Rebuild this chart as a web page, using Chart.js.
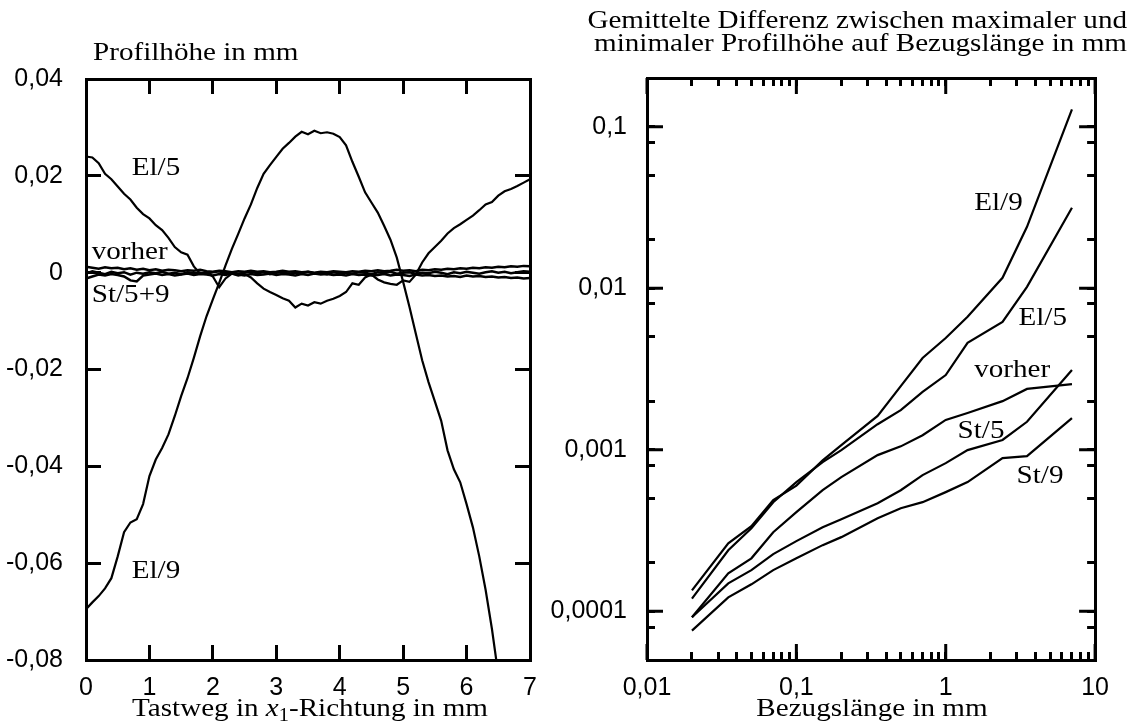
<!DOCTYPE html>
<html>
<head>
<meta charset="utf-8">
<script src="https://cdn.jsdelivr.net/npm/chart.js@4.4.1/dist/chart.umd.min.js"></script>
<style>
  html, body { margin: 0; padding: 0; background: #fff; }
  #wrap { position: relative; width: 1130px; height: 726px; }
  #c1 { position: absolute; left: 0; top: 0; }
  #c2 { position: absolute; left: 540px; top: 0; }
</style>
</head>
<body>
<div id="wrap">
  <canvas id="c1" width="565" height="726"></canvas>
  <canvas id="c2" width="590" height="726"></canvas>
</div>
<script>
// ---- left chart: profile height over stylus path ----
const tastweg = [
  0.0, 0.1, 0.2, 0.3, 0.4, 0.5, 0.6, 0.7, 0.8, 0.9,
  1.0, 1.1, 1.2, 1.3, 1.4, 1.5, 1.6, 1.7, 1.8, 1.9,
  2.0, 2.1, 2.2, 2.3, 2.4, 2.5, 2.6, 2.7, 2.8, 2.9,
  3.0, 3.1, 3.2, 3.3, 3.4, 3.5, 3.6, 3.7, 3.8, 3.9,
  4.0, 4.1, 4.2, 4.3, 4.4, 4.5, 4.6, 4.7, 4.8, 4.9,
  5.0, 5.1, 5.2, 5.3, 5.4, 5.5, 5.6, 5.7, 5.8, 5.9,
  6.0, 6.1, 6.2, 6.3, 6.4, 6.5, 6.6, 6.7, 6.8, 6.9,
  7.0
];
const profilEl5 = [
  0.0240, 0.0238, 0.0226, 0.0204, 0.0193, 0.0178, 0.0163, 0.0151, 0.0134, 0.0121,
  0.0112, 0.0098, 0.0088, 0.0072, 0.0053, 0.0042, 0.0037, 0.0013, -0.0002, 0.0001,
  -0.0008, -0.0030, -0.0012, -0.0002, -0.0006, -0.0003, -0.0010, -0.0022, -0.0033, -0.0040,
  -0.0046, -0.0053, -0.0058, -0.0072, -0.0064, -0.0068, -0.0061, -0.0064, -0.0058, -0.0054,
  -0.0048, -0.0040, -0.0022, -0.0025, -0.0010, -0.0004, -0.0014, -0.0020, -0.0023, -0.0025,
  -0.0016, -0.0019, -0.0004, 0.0021, 0.0040, 0.0053, 0.0066, 0.0081, 0.0092, 0.0100,
  0.0109, 0.0118, 0.0129, 0.0141, 0.0146, 0.0159, 0.0168, 0.0173, 0.0179, 0.0186,
  0.0193
];
const profilEl9 = [
  -0.0695, -0.0681, -0.0668, -0.0652, -0.0631, -0.0586, -0.0536, -0.0516, -0.0509, -0.0478,
  -0.0420, -0.0386, -0.0362, -0.0334, -0.0296, -0.0255, -0.0218, -0.0176, -0.0131, -0.0090,
  -0.0055, -0.0021, 0.0015, 0.0049, 0.0080, 0.0112, 0.0141, 0.0175, 0.0204, 0.0222,
  0.0239, 0.0256, 0.0268, 0.0281, 0.0291, 0.0286, 0.0293, 0.0288, 0.0290, 0.0287,
  0.0280, 0.0263, 0.0229, 0.0198, 0.0166, 0.0145, 0.0124, 0.0097, 0.0068, 0.0031,
  -0.0019, -0.0071, -0.0126, -0.0181, -0.0226, -0.0266, -0.0306, -0.0367, -0.0406, -0.0433,
  -0.0478, -0.0526, -0.0586, -0.0655, -0.0736, -0.0830, -0.0930, -0.1030, null, null,
  null
];
const profilVorher = [
  0.0012, 0.0010, 0.0008, 0.0011, 0.0009, 0.0010, 0.0007, 0.0009, 0.0006, 0.0008,
  0.0005, 0.0007, 0.0004, 0.0006, 0.0005, 0.0003, 0.0005, 0.0004, 0.0006, 0.0003,
  0.0002, 0.0004, 0.0003, 0.0001, 0.0003, 0.0002, 0.0004, 0.0002, 0.0003, 0.0001,
  0.0002, 0.0004, 0.0002, 0.0003, 0.0001, 0.0002, 0.0000, 0.0002, 0.0001, 0.0003,
  0.0002, 0.0001, 0.0003, 0.0002, 0.0004, 0.0003, 0.0005, 0.0003, 0.0004, 0.0006,
  0.0004, 0.0005, 0.0003, 0.0006, 0.0005, 0.0007, 0.0006, 0.0008, 0.0007, 0.0009,
  0.0008, 0.0010, 0.0009, 0.0011, 0.0010, 0.0012, 0.0011, 0.0013, 0.0012, 0.0014,
  0.0013
];
const profilSt5 = [
  -0.0002, 0.0003, 0.0000, -0.0003, 0.0002, -0.0001, 0.0001, -0.0004, 0.0000, -0.0002,
  0.0001, -0.0001, 0.0002, -0.0002, 0.0000, -0.0003, 0.0001, -0.0001, 0.0000, -0.0002,
  0.0001, 0.0003, -0.0001, 0.0001, -0.0002, 0.0000, 0.0002, -0.0001, 0.0001, -0.0003,
  0.0000, 0.0001, -0.0002, 0.0000, -0.0001, 0.0002, -0.0001, 0.0000, -0.0003, 0.0001,
  -0.0001, 0.0000, -0.0002, 0.0001, 0.0000, -0.0003, 0.0001, -0.0001, 0.0002, -0.0002,
  0.0000, 0.0001, -0.0002, 0.0000, -0.0001, 0.0002, 0.0000, -0.0003, 0.0001, -0.0001,
  0.0002, 0.0000, -0.0002, 0.0001, 0.0003, 0.0000, 0.0002, -0.0001, 0.0001, 0.0003,
  0.0002
];
const profilSt9 = [
  -0.0012, -0.0008, -0.0004, -0.0006, -0.0003, -0.0005, -0.0008, -0.0016, -0.0018, -0.0006,
  -0.0004, -0.0002, -0.0005, -0.0003, -0.0006, -0.0004, -0.0002, -0.0005, -0.0003, -0.0004,
  -0.0006, -0.0003, -0.0005, -0.0002, -0.0004, -0.0006, -0.0003, -0.0005, -0.0004, -0.0002,
  -0.0005, -0.0003, -0.0004, -0.0006, -0.0003, -0.0005, -0.0002, -0.0004, -0.0003, -0.0005,
  -0.0004, -0.0006, -0.0003, -0.0005, -0.0004, -0.0006, -0.0005, -0.0003, -0.0006, -0.0004,
  -0.0005, -0.0007, -0.0004, -0.0006, -0.0005, -0.0007, -0.0006, -0.0008, -0.0007, -0.0009,
  -0.0006, -0.0008, -0.0007, -0.0009, -0.0008, -0.0010, -0.0009, -0.0011, -0.0010, -0.0012,
  -0.0011
];
const leftXTicks = [0, 1, 2, 3, 4, 5, 6, 7];
const leftXLabels = ['0', '1', '2', '3', '4', '5', '6', '7'];
const leftYTicks = [-0.08, -0.06, -0.04, -0.02, 0, 0.02, 0.04];
const leftYLabels = ['-0,08', '-0,06', '-0,04', '-0,02', '0', '0,02', '0,04'];

// ---- right chart: mean peak-to-valley over reference length ----
const bezugslaenge = [0.02, 0.035, 0.05, 0.07, 0.1, 0.15, 0.2, 0.35, 0.5, 0.7, 1, 1.4, 2.4, 3.5, 7];
const diffEl9 = [1.35e-4, 2.64e-4, 3.37e-4, 4.88e-4, 6.0e-4, 8.6e-4, 1.07e-3, 1.62e-3, 2.48e-3, 3.7e-3, 4.92e-3, 6.65e-3, 1.16e-2, 2.4e-2, 0.128];
const diffEl5 = [1.2e-4, 2.39e-4, 3.27e-4, 4.74e-4, 6.31e-4, 8.39e-4, 9.96e-4, 1.44e-3, 1.76e-3, 2.28e-3, 2.9e-3, 4.59e-3, 6.19e-3, 1.02e-2, 3.15e-2];
const diffVorher = [0.92e-4, 1.72e-4, 2.13e-4, 3.09e-4, 4.11e-4, 5.62e-4, 6.77e-4, 9.27e-4, 1.05e-3, 1.23e-3, 1.53e-3, 1.69e-3, 2.0e-3, 2.38e-3, 2.55e-3];
const diffSt5 = [0.92e-4, 1.49e-4, 1.80e-4, 2.26e-4, 2.72e-4, 3.32e-4, 3.72e-4, 4.67e-4, 5.62e-4, 6.97e-4, 8.27e-4, 9.96e-4, 1.15e-3, 1.49e-3, 3.12e-3];
const diffSt9 = [0.76e-4, 1.22e-4, 1.47e-4, 1.80e-4, 2.13e-4, 2.57e-4, 2.88e-4, 3.77e-4, 4.35e-4, 4.74e-4, 5.47e-4, 6.31e-4, 8.89e-4, 9.14e-4, 1.57e-3];
const rightXMajor = [0.01, 0.1, 1, 10];
const rightXLabels = ['0,01', '0,1', '1', '10'];
const rightXMinor = [0.02, 0.03, 0.04, 0.05, 0.06, 0.07, 0.08, 0.09,
                     0.2, 0.3, 0.4, 0.5, 0.6, 0.7, 0.8, 0.9,
                     2, 3, 4, 5, 6, 7, 8, 9];
const rightYMajor = [0.0001, 0.001, 0.01, 0.1];
const rightYLabels = ['0,0001', '0,001', '0,01', '0,1'];
const rightYMinor = [0.00008, 0.0002, 0.0005, 0.0008, 0.002, 0.005, 0.008, 0.02, 0.05, 0.08];

const SANS = '"Liberation Sans", Arial, sans-serif';
const SERIF = '"Liberation Serif", "Times New Roman", serif';
const SERIF_SIZE = 26;
const STRETCH = 1.12;

function pts(xs, ys) {
  return xs.map((x, i) => ({ x: x, y: ys[i] }));
}

// serif text, slightly widened to resemble the original typeface
function serifText(ctx, parts, x, y, align) {
  const pieces = typeof parts === 'string' ? [{ t: parts }] : parts;
  ctx.save();
  ctx.fillStyle = '#000';
  ctx.textBaseline = 'alphabetic';
  ctx.textAlign = 'left';
  let total = 0;
  pieces.forEach(p => {
    const size = p.sub ? SERIF_SIZE * 0.7 : SERIF_SIZE;
    ctx.font = (p.italic ? 'italic ' : '') + size + 'px ' + SERIF;
    p.w = ctx.measureText(p.t).width;
    p.size = size;
    total += p.w;
  });
  let start = x;
  if (align === 'center') start = x - total * STRETCH / 2;
  if (align === 'right') start = x - total * STRETCH;
  ctx.translate(start, y);
  ctx.scale(STRETCH, 1);
  let cx = 0;
  pieces.forEach(p => {
    ctx.font = (p.italic ? 'italic ' : '') + p.size + 'px ' + SERIF;
    ctx.fillText(p.t, cx, p.sub ? 5 : 0);
    cx += p.w;
  });
  ctx.restore();
}

// longer inward ticks at the major values
const majorTicks = {
  id: 'majorTicks',
  afterDraw(chart, args, opts) {
    const ctx = chart.ctx;
    const a = chart.chartArea;
    ctx.save();
    ctx.strokeStyle = '#000';
    ctx.lineWidth = 3;
    ctx.beginPath();
    (opts.list || []).forEach(item => {
      const s = chart.scales[item.scale];
      item.values.forEach(v => {
        const p = s.getPixelForValue(v);
        if (item.side === 'bottom') { ctx.moveTo(p, a.bottom); ctx.lineTo(p, a.bottom - item.len); }
        if (item.side === 'top') { ctx.moveTo(p, a.top); ctx.lineTo(p, a.top + item.len); }
        if (item.side === 'left') { ctx.moveTo(a.left, p); ctx.lineTo(a.left + item.len, p); }
        if (item.side === 'right') { ctx.moveTo(a.right, p); ctx.lineTo(a.right - item.len, p); }
      });
    });
    ctx.stroke();
    ctx.restore();
  }
};

// titles and curve names
const texts = {
  id: 'texts',
  afterDraw(chart, args, opts) {
    const ctx = chart.ctx;
    (opts.items || []).forEach(it => {
      let x = it.x, y = it.y;
      if (it.data) {
        x = chart.scales.x.getPixelForValue(it.data[0]);
        y = chart.scales.y.getPixelForValue(it.data[1]);
      }
      serifText(ctx, it.text, x, y, it.align || 'left');
    });
  }
};

function axisBase(extra) {
  return Object.assign({
    border: { display: true, width: 3, color: '#000' },
  }, extra);
}

function gridOpts(len) {
  return { drawOnChartArea: false, drawTicks: true, tickLength: -len, tickWidth: 3, tickColor: '#000' };
}

const tickFont = { family: SANS, size: 25 };

function lineSet(data, width) {
  return { data: data, borderColor: '#000', borderWidth: width, pointRadius: 0, tension: 0, fill: false };
}

Chart.register(majorTicks, texts);

new Chart(document.getElementById('c1'), {
  type: 'line',
  data: {
    datasets: [
      lineSet(pts(tastweg, profilVorher), 2.5),
      lineSet(pts(tastweg, profilSt5), 2.5),
      lineSet(pts(tastweg, profilSt9), 2.5),
      lineSet(pts(tastweg, profilEl5), 2.2),
      lineSet(pts(tastweg, profilEl9), 2.2)
    ]
  },
  options: {
    responsive: false,
    animation: false,
    events: [],
    layout: { padding: 0 },
    plugins: {
      legend: { display: false },
      tooltip: { enabled: false },
      majorTicks: { list: [] },
      texts: {
        items: [
          { text: 'Profilhöhe in mm', x: 93, y: 60 },
          { text: [{ t: 'Tastweg in ' }, { t: 'x', italic: true }, { t: '1', sub: true }, { t: '-Richtung in mm' }], x: 310, y: 716, align: 'center' },
          { text: 'El/5', data: [0.72, 0.0202] },
          { text: 'vorher', data: [0.09, 0.0029] },
          { text: 'St/5+9', data: [0.09, -0.006] },
          { text: 'El/9', data: [0.72, -0.0631] }
        ]
      }
    },
    scales: {
      x: axisBase({
        type: 'linear', position: 'bottom', min: 0, max: 7,
        afterBuildTicks: s => { s.ticks = leftXTicks.map(v => ({ value: v })); },
        afterFit: s => { s.height = 66; },
        grid: gridOpts(15),
        ticks: { color: '#000', font: tickFont, padding: 28, autoSkip: false, maxRotation: 0,
                 callback: v => leftXLabels[leftXTicks.indexOf(v)] }
      }),
      xTop: axisBase({
        type: 'linear', position: 'top', min: 0, max: 7,
        afterBuildTicks: s => { s.ticks = leftXTicks.map(v => ({ value: v })); },
        afterFit: s => { s.height = 79; },
        grid: gridOpts(15),
        ticks: { display: false }
      }),
      y: axisBase({
        type: 'linear', position: 'left', min: -0.08, max: 0.04,
        afterBuildTicks: s => { s.ticks = leftYTicks.map(v => ({ value: v })); },
        afterFit: s => { s.width = 86; },
        grid: gridOpts(15),
        ticks: { color: '#000', font: tickFont, padding: 38, autoSkip: false,
                 callback: v => leftYLabels[leftYTicks.indexOf(v)] }
      }),
      yRight: axisBase({
        type: 'linear', position: 'right', min: -0.08, max: 0.04,
        afterBuildTicks: s => { s.ticks = leftYTicks.map(v => ({ value: v })); },
        afterFit: s => { s.width = 35; },
        grid: gridOpts(15),
        ticks: { display: false }
      })
    }
  }
});

const allRightX = rightXMajor.concat(rightXMinor).sort((a, b) => a - b);
const allRightY = rightYMajor.concat(rightYMinor).sort((a, b) => a - b);

new Chart(document.getElementById('c2'), {
  type: 'line',
  data: {
    datasets: [
      lineSet(pts(bezugslaenge, diffEl9), 2.2),
      lineSet(pts(bezugslaenge, diffEl5), 2.2),
      lineSet(pts(bezugslaenge, diffVorher), 2.2),
      lineSet(pts(bezugslaenge, diffSt5), 2.2),
      lineSet(pts(bezugslaenge, diffSt9), 2.2)
    ]
  },
  options: {
    responsive: false,
    animation: false,
    events: [],
    layout: { padding: 0 },
    plugins: {
      legend: { display: false },
      tooltip: { enabled: false },
      majorTicks: {
        list: [
          { scale: 'x', side: 'bottom', values: rightXMajor, len: 16 },
          { scale: 'x', side: 'top', values: rightXMajor, len: 16 },
          { scale: 'y', side: 'left', values: rightYMajor, len: 16 },
          { scale: 'y', side: 'right', values: rightYMajor, len: 16 }
        ]
      },
      texts: {
        items: [
          { text: 'Gemittelte Differenz zwischen maximaler und', x: 587, y: 28, align: 'right' },
          { text: 'minimaler Profilhöhe auf Bezugslänge in mm', x: 587, y: 51, align: 'right' },
          { text: 'Bezugslänge in mm', x: 332, y: 716, align: 'center' },
          { text: 'El/9', data: [1.55, 0.0306] },
          { text: 'El/5', data: [3.07, 0.00593] },
          { text: 'vorher', data: [1.55, 0.00282] },
          { text: 'St/5', data: [1.2, 0.00118] },
          { text: 'St/9', data: [2.98, 0.000622] }
        ]
      }
    },
    scales: {
      x: axisBase({
        type: 'logarithmic', position: 'bottom', min: 0.01, max: 10,
        afterBuildTicks: s => { s.ticks = allRightX.map(v => ({ value: v })); },
        afterFit: s => { s.height = 66; },
        grid: gridOpts(8),
        ticks: { color: '#000', font: tickFont, padding: 21, autoSkip: false, maxRotation: 0,
                 callback: v => { const i = rightXMajor.indexOf(v); return i >= 0 ? rightXLabels[i] : ''; } }
      }),
      xTop: axisBase({
        type: 'logarithmic', position: 'top', min: 0.01, max: 10,
        afterBuildTicks: s => { s.ticks = allRightX.map(v => ({ value: v })); },
        afterFit: s => { s.height = 78; },
        grid: gridOpts(8),
        ticks: { display: false }
      }),
      y: axisBase({
        type: 'logarithmic', position: 'left', min: 0.00005, max: 0.2,
        afterBuildTicks: s => { s.ticks = allRightY.map(v => ({ value: v })); },
        afterFit: s => { s.width = 107; },
        grid: gridOpts(8),
        ticks: { color: '#000', font: tickFont, padding: 28, autoSkip: false,
                 callback: v => { const i = rightYMajor.indexOf(v); return i >= 0 ? rightYLabels[i] : ''; } }
      }),
      yRight: axisBase({
        type: 'logarithmic', position: 'right', min: 0.00005, max: 0.2,
        afterBuildTicks: s => { s.ticks = allRightY.map(v => ({ value: v })); },
        afterFit: s => { s.width = 28; },
        grid: gridOpts(8),
        ticks: { display: false }
      })
    }
  }
});
</script>
</body>
</html>
